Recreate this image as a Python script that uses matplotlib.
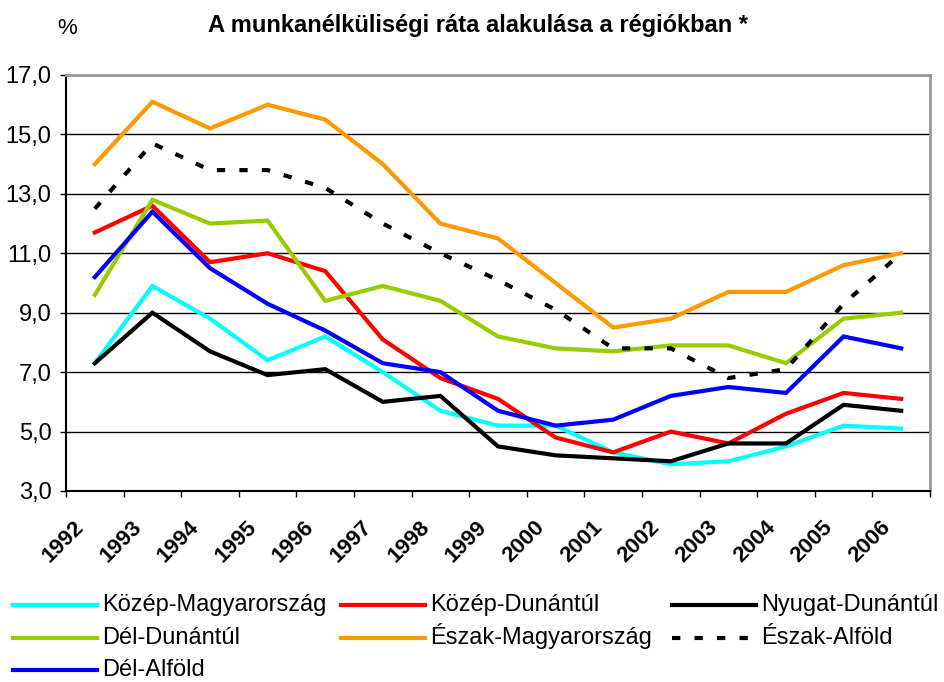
import matplotlib

matplotlib.use("Agg")
import matplotlib.pyplot as plt  # noqa: E402
from matplotlib.lines import Line2D  # noqa: E402
from matplotlib.transforms import ScaledTranslation  # noqa: E402

plt.rcParams["font.family"] = ["Liberation Sans", "DejaVu Sans"]

years = [str(y) for y in range(1992, 2007)]

kozep_magyarorszag = [7.3, 9.9, 8.8, 7.4, 8.2, 7.0, 5.7, 5.2, 5.2, 4.3, 3.9, 4.0, 4.5, 5.2, 5.1]
kozep_dunantul = [11.7, 12.6, 10.7, 11.0, 10.4, 8.1, 6.8, 6.1, 4.8, 4.3, 5.0, 4.6, 5.6, 6.3, 6.1]
nyugat_dunantul = [7.3, 9.0, 7.7, 6.9, 7.1, 6.0, 6.2, 4.5, 4.2, 4.1, 4.0, 4.6, 4.6, 5.9, 5.7]
del_dunantul = [9.6, 12.8, 12.0, 12.1, 9.4, 9.9, 9.4, 8.2, 7.8, 7.7, 7.9, 7.9, 7.3, 8.8, 9.0]
eszak_magyarorszag = [14.0, 16.1, 15.2, 16.0, 15.5, 14.0, 12.0, 11.5, 10.0, 8.5, 8.8, 9.7, 9.7, 10.6, 11.0]
eszak_alfold = [12.5, 14.7, 13.8, 13.8, 13.2, 12.0, 11.0, 10.1, 9.1, 7.8, 7.8, 6.8, 7.1, 9.3, 11.0]
del_alfold = [10.2, 12.4, 10.5, 9.3, 8.4, 7.3, 7.0, 5.7, 5.2, 5.4, 6.2, 6.5, 6.3, 8.2, 7.8]

series = [
    ("Közép-Magyarország", kozep_magyarorszag, "#00ffff", "-"),
    ("Közép-Dunántúl", kozep_dunantul, "#ff0000", "-"),
    ("Nyugat-Dunántúl", nyugat_dunantul, "#000000", "-"),
    ("Dél-Dunántúl", del_dunantul, "#99cc00", "-"),
    ("Észak-Magyarország", eszak_magyarorszag, "#ff9900", "-"),
    ("Észak-Alföld", eszak_alfold, "#000000", "--"),
    ("Dél-Alföld", del_alfold, "#0000ff", "-"),
]

W, H = 944, 682
fig = plt.figure(figsize=(W / 100, H / 100), dpi=100)
ax = fig.add_axes([66 / W, 1 - 491 / H, 864 / W, 416 / H])

x = [i + 0.5 for i in range(len(years))]
DASH = (2, 3.4)
for label, vals, color, ls in series:
    if ls == "--":
        ax.plot(x, vals, color=color, lw=3, dashes=DASH, label=label)
    else:
        ax.plot(x, vals, color=color, lw=3, label=label, solid_joinstyle="miter")

ax.set_xlim(0, len(years))
ax.set_ylim(3, 17)
ax.set_yticks(range(3, 18, 2))
ax.set_yticklabels([f"{v},0" for v in range(3, 18, 2)], fontsize=17)
ax.yaxis.grid(True, color="black", linewidth=1)
ax.set_axisbelow(True)

ax.set_xticks(range(len(years) + 1))
ax.set_xticklabels([])
ax.set_xticks(x, minor=True)
ax.set_xticklabels(years, minor=True, rotation=45, ha="right", va="center",
                   rotation_mode="anchor", fontsize=16, fontweight="bold")
ax.tick_params(axis="x", which="major", direction="out", length=4, width=1)
ax.tick_params(axis="x", which="minor", length=0, pad=24)
ax.tick_params(axis="y", direction="out", length=4.5, width=1, pad=6)
shift = ScaledTranslation(-0.14, 0, fig.dpi_scale_trans)
for lab in ax.get_xticklabels(minor=True):
    lab.set_transform(lab.get_transform() + shift)

for side in ("top", "right"):
    ax.spines[side].set_color("#999999")
    ax.spines[side].set_linewidth(2)
ax.spines["left"].set_linewidth(1.5)
ax.spines["bottom"].set_linewidth(1.5)

fig.text(0.506, 0.962, "A munkanélküliségi ráta alakulása a régiókban *",
         ha="center", va="center", fontsize=17, fontweight="bold")
fig.text(0.071, 0.958, "%", ha="center", va="center", fontsize=16)

# legend drawn by hand: 3 columns filled row by row, rows kept level despite accents
col_x = [13, 341, 672]
row_y = [605, 638, 670]
handle_len = 84
for k, (label, _, color, ls) in enumerate(series):
    r, c = divmod(k, 3)
    x0, y0 = col_x[c], row_y[r]
    line = Line2D([x0 / W, (x0 + handle_len) / W], [1 - y0 / H, 1 - y0 / H],
                  transform=fig.transFigure, color=color, lw=3)
    if ls == "--":
        line.set_dashes(DASH)
    fig.add_artist(line)
    fig.text((x0 + handle_len + 5) / W, 1 - (y0 + 6) / H, label,
             ha="left", va="baseline", fontsize=17)

fig.savefig("out.png", dpi=100)
